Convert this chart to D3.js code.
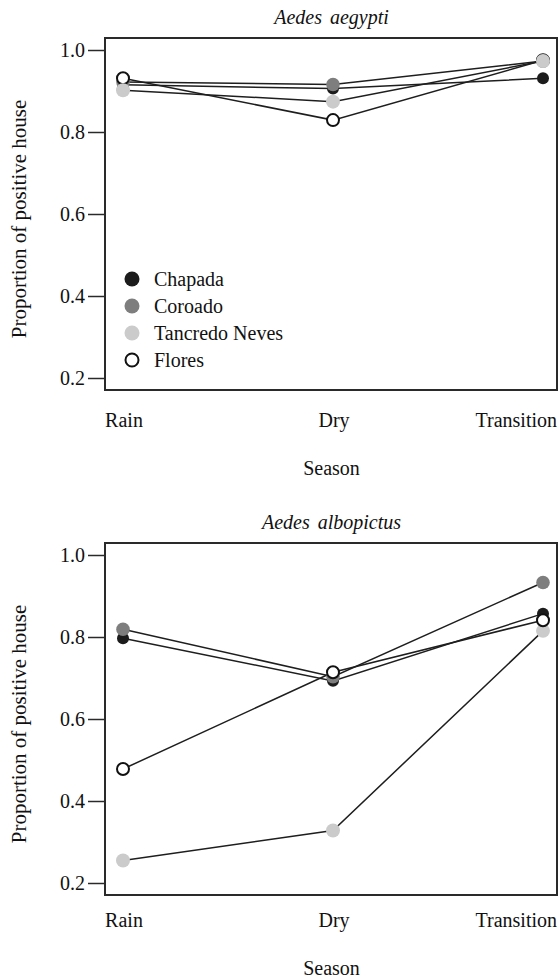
<!DOCTYPE html>
<html>
<head>
<meta charset="utf-8">
<script src="https://cdn.jsdelivr.net/npm/d3@7"></script>
<style>
  body { margin: 0; background: #fff; }
  svg { display: block; }
</style>
</head>
<body>
<svg></svg>
<script>
const width = 559
const height = 979

// Data
const seasons = ["Rain", "Dry", "Transition"]
const sites = ["Chapada", "Coroado", "Tancredo Neves", "Flores"]
const yTicks = [0.2, 0.4, 0.6, 0.8, 1.0]

const aegyptiChapada = [0.915, 0.906, 0.931]
const aegyptiCoroado = [0.922, 0.916, 0.973]
const aegyptiTancredo = [0.902, 0.874, 0.973]
const aegyptiFlores = [0.931, 0.829, 0.975]

const albopictusChapada = [0.797, 0.693, 0.857]
const albopictusCoroado = [0.819, 0.703, 0.933]
const albopictusTancredo = [0.255, 0.328, 0.815]
const albopictusFlores = [0.478, 0.714, 0.841]

const font = `"Liberation Serif"`

const siteStyle = {
    "Chapada": { fill: "#1c1c1c", stroke: "none", r: 6 },
    "Coroado": { fill: "#7e7e7e", stroke: "none", r: 6.8 },
    "Tancredo Neves": { fill: "#cbcbcb", stroke: "none", r: 7 },
    "Flores": { fill: "#fff", stroke: "#111", r: 6 }
}

const panels = [
    {
        title: "Aedes aegypti",
        series: [aegyptiChapada, aegyptiCoroado, aegyptiTancredo, aegyptiFlores],
        order: [0, 1, 3, 2],
        boxTop: 38, labelY: 427, seasonY: 475,
        legend: true
    },
    {
        title: "Aedes albopictus",
        series: [albopictusChapada, albopictusCoroado, albopictusTancredo, albopictusFlores],
        order: [0, 1, 2, 3],
        boxTop: 543, labelY: 927, seasonY: 975,
        legend: false
    }
]

const box = { left: 105, right: 558, height: 352 }

const svg = d3.select("svg")
    .attr("width", width)
    .attr("height", height)

const xScale = d3.scalePoint()
    .domain(seasons)
    .range([123, 543])

// helper for text elements
const addText = (sel, size) => sel
    .style("font-family", font)
    .attr("font-size", size)
    .attr("fill", "#111")

const render = (p) => {
    const g = svg.append("g")

    const yScale = d3.scaleLinear()
        .domain([0.2, 1.0])
        .range([p.boxTop + 340, p.boxTop + 12])

    // frame
    g.append("rect")
        .attr("x", box.left)
        .attr("y", p.boxTop)
        .attr("width", box.right - box.left - 1)
        .attr("height", box.height)
        .attr("fill", "none")
        .attr("stroke", "#2a2a2a")
        .attr("stroke-width", 2)

    // y axis
    const yAxis = d3.axisLeft(yScale)
        .tickValues(yTicks)
        .tickFormat(d3.format(".1f"))
        .tickSize(16)
        .tickPadding(3)

    const yAxisG = g.append("g")
        .attr("transform", `translate(${box.left - 1}, 0)`)
        .call(yAxis)
    yAxisG.select(".domain").remove()
    yAxisG.selectAll(".tick line").attr("stroke", "#2a2a2a").attr("stroke-width", 1.5)
    addText(yAxisG.selectAll(".tick text"), "20px")

    // category labels
    addText(g.selectAll(".xlab").data(seasons)
        .enter()
        .append("text")
        .attr("class", "xlab")
        .attr("x", (d, i) => i === seasons.length - 1 ? box.right - 1 : xScale(d) + 1)
        .attr("y", p.labelY)
        .attr("text-anchor", (d, i) => i === seasons.length - 1 ? "end" : "middle"), "20px")
        .text(d => d)

    addText(g.append("text")
        .attr("x", (box.left + box.right) / 2)
        .attr("y", p.seasonY)
        .attr("text-anchor", "middle"), "20px")
        .text("Season")

    addText(g.append("text")
        .attr("transform", "rotate(-90)")
        .attr("x", -(p.boxTop + box.height / 2 + 5))
        .attr("y", 26)
        .attr("text-anchor", "middle"), "21px")
        .text("Proportion of positive house")

    addText(g.append("text")
        .attr("x", (box.left + box.right) / 2)
        .attr("y", p.boxTop - 14)
        .attr("text-anchor", "middle")
        .attr("font-style", "italic")
        .attr("word-spacing", "3px"), "20px")
        .text(p.title)

    // lines
    const line = d3.line()
        .x((d, i) => xScale(seasons[i]))
        .y(d => yScale(d))

    g.selectAll(".series").data(p.series)
        .enter()
        .append("path")
        .attr("class", "series")
        .attr("d", d => line(d))
        .attr("fill", "none")
        .attr("stroke", "#1e1e1e")
        .attr("stroke-width", 1.5)

    // markers
    p.order.forEach(k => {
        const st = siteStyle[sites[k]]
        g.selectAll(null).data(p.series[k])
            .enter()
            .append("circle")
            .attr("cx", (d, i) => xScale(seasons[i]))
            .attr("cy", d => yScale(d))
            .attr("r", st.r)
            .attr("fill", st.fill)
            .attr("stroke", st.stroke)
            .attr("stroke-width", 2)
    })

    // legend
    if (p.legend) {
        const lg = g.append("g")
            .attr("transform", `translate(132, ${p.boxTop + 241})`)
        const rows = lg.selectAll("g").data(sites)
            .enter()
            .append("g")
            .attr("transform", (d, i) => `translate(0, ${i * 27})`)
        rows.append("circle")
            .attr("r", d => d === "Flores" ? 6.5 : 7.5)
            .attr("fill", d => siteStyle[d].fill)
            .attr("stroke", d => siteStyle[d].stroke)
            .attr("stroke-width", 2)
        addText(rows.append("text")
            .attr("x", 22)
            .attr("dy", "0.35em"), "20px")
            .text(d => d)
    }
}

panels.forEach(render)
</script>
</body>
</html>
